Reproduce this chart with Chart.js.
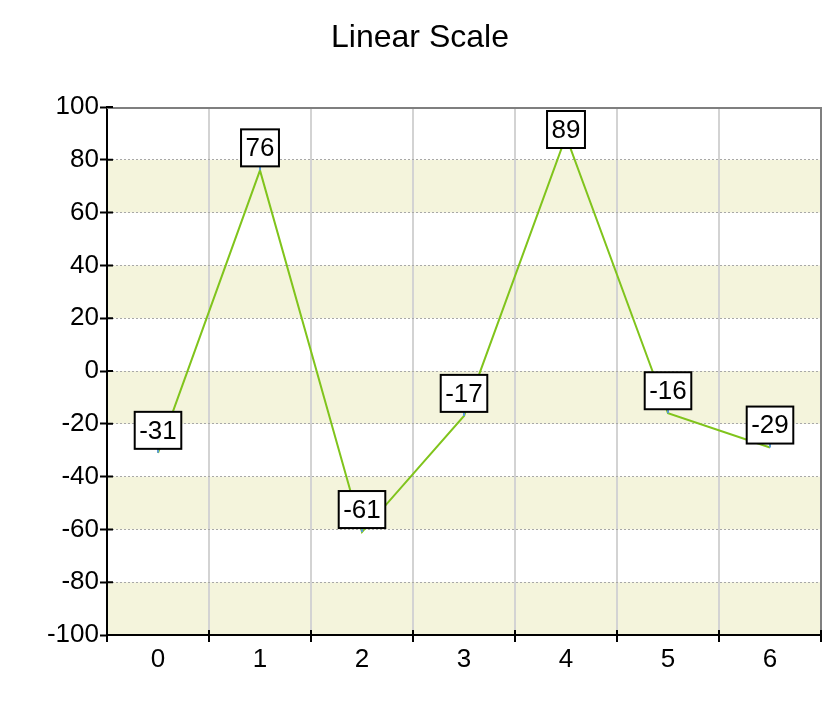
<!DOCTYPE html>
<html>
<head>
<meta charset="utf-8">
<script src="https://cdn.jsdelivr.net/npm/chart.js@4"></script>
<style>
  body { margin: 0; background: #fff; }
  #grafico { display: block; }
</style>
</head>
<body>
<canvas id="grafico" width="840" height="720"></canvas>
<script>
// datos del grafico
const categorias = ["0", "1", "2", "3", "4", "5", "6"];
const valores = [-31, 76, -61, -17, 89, -16, -29];
const bandas = [[60, 80], [20, 40], [-20, 0], [-60, -40], [-100, -80]];

const fuente = "'Liberation Sans', Arial, sans-serif";

// ----------- bandas de fondo ----------
const pluginBandas = {
    id: "bandas",
    beforeDraw(chart) {
        const { ctx, chartArea, scales } = chart;
        ctx.save();
        ctx.fillStyle = "#f4f4dc";
        bandas.forEach(b => {
            const y1 = scales.y.getPixelForValue(b[1]);
            const y2 = scales.y.getPixelForValue(b[0]);
            ctx.fillRect(chartArea.left, y1, chartArea.right - chartArea.left, y2 - y1);
        });
        ctx.restore();
    }
};

// ----------- borde gris arriba / derecha + ticks hacia adentro ----------
const pluginBorde = {
    id: "borde",
    beforeDatasetsDraw(chart) {
        const { ctx, chartArea, scales } = chart;
        ctx.save();
        ctx.strokeStyle = "#7f7f7f";
        ctx.lineWidth = 2;
        ctx.beginPath();
        ctx.moveTo(chartArea.left, chartArea.top + 1);
        ctx.lineTo(chartArea.right, chartArea.top + 1);
        ctx.moveTo(chartArea.right, chartArea.top);
        ctx.lineTo(chartArea.right, chartArea.bottom);
        ctx.stroke();

        // ticks cortos dentro del area
        ctx.strokeStyle = "#000";
        ctx.beginPath();
        const n = categorias.length;
        for (let k = 0; k <= n; k++) {
            let x;
            if (k === 0) x = chartArea.left;
            else if (k === n) x = chartArea.right;
            else x = (scales.x.getPixelForValue(k - 1) + scales.x.getPixelForValue(k)) / 2;
            ctx.moveTo(x, chartArea.bottom);
            ctx.lineTo(x, chartArea.bottom - 5);
        }
        scales.y.ticks.forEach(t => {
            const y = scales.y.getPixelForValue(t.value);
            ctx.moveTo(chartArea.left, y);
            ctx.lineTo(chartArea.left + 6, y);
        });
        ctx.stroke();
        ctx.restore();
    }
};

// ----------- etiquetas con caja ----------
const pluginEtiquetas = {
    id: "etiquetas",
    afterDatasetsDraw(chart) {
        const { ctx, chartArea } = chart;
        const meta = chart.getDatasetMeta(0);
        ctx.save();
        ctx.font = "26px " + fuente;
        ctx.textAlign = "center";
        ctx.textBaseline = "middle";
        ctx.lineWidth = 2;
        meta.data.forEach((pt, i) => {
            const txt = String(valores[i]);
            const w = ctx.measureText(txt).width + 9;
            const h = 37;
            let top = pt.y - 4 - h;
            if (top < chartArea.top + 4) top = chartArea.top + 4;
            // conector azul
            ctx.strokeStyle = "#5b9bd5";
            ctx.beginPath();
            ctx.moveTo(pt.x, pt.y);
            ctx.lineTo(pt.x, top + h);
            ctx.stroke();
            ctx.fillStyle = "#fff";
            ctx.fillRect(pt.x - w / 2, top, w, h);
            ctx.strokeStyle = "#000";
            ctx.strokeRect(pt.x - w / 2, top, w, h);
            ctx.fillStyle = "#000";
            ctx.fillText(txt, pt.x, top + h / 2 + 1);
        });
        ctx.restore();
    }
};

new Chart(document.getElementById("grafico"), {
    type: "line",
    data: {
        labels: categorias,
        datasets: [{
            data: valores,
            borderColor: "#80c41c",
            borderWidth: 2,
            pointRadius: 0,
            tension: 0,
            fill: false
        }]
    },
    options: {
        responsive: false,
        animation: false,
        layout: { padding: 0 },
        plugins: {
            legend: { display: false },
            tooltip: { enabled: false },
            title: {
                display: true,
                text: "Linear Scale",
                color: "#000",
                font: { family: fuente, size: 32, weight: "normal" },
                padding: { top: 19, bottom: 49.6 }
            }
        },
        scales: {
            x: {
                offset: true,
                grid: {
                    offset: true,
                    color: "#d3d3d3",
                    lineWidth: 2,
                    tickColor: "#000",
                    tickLength: 7,
                    tickWidth: 2
                },
                border: { color: "#000", width: 2 },
                ticks: { color: "#000", font: { family: fuente, size: 26 }, padding: 2 },
                afterFit: s => { s.height = 85; }
            },
            y: {
                min: -100,
                max: 100,
                grid: {
                    color: "#a8a8a8",
                    lineWidth: 1,
                    tickColor: "#000",
                    tickLength: 7,
                    tickWidth: 2
                },
                border: { color: "#000", width: 2, dash: [2, 2] },
                ticks: { stepSize: 20, color: "#000", font: { family: fuente, size: 26 }, padding: 1 },
                afterFit: s => { s.width = 107; }
            },
            // eje vacio a la derecha, solo reserva margen
            margen: {
                type: "linear",
                position: "right",
                grid: { drawOnChartArea: false, drawTicks: false },
                border: { display: false },
                ticks: { display: false },
                afterFit: s => { s.width = 19; }
            }
        }
    },
    plugins: [pluginBandas, pluginBorde, pluginEtiquetas]
});
</script>
</body>
</html>
